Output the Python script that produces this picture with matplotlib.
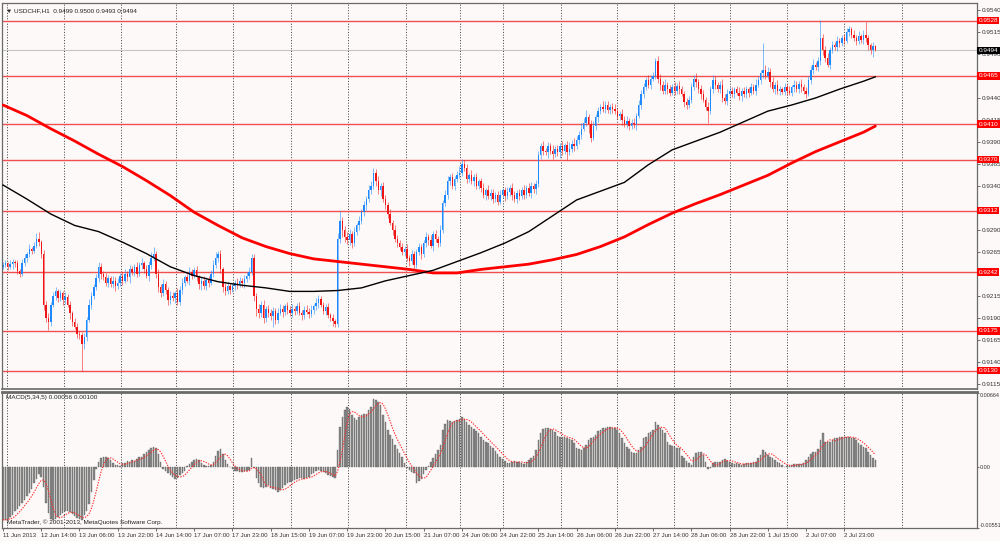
import numpy as np
import matplotlib
matplotlib.use("Agg")
import matplotlib.pyplot as plt

# ---------------- data (prices in pips above 0.9000) ----------------
closes_pips = [
    250, 252, 248, 251, 254, 252, 243, 240, 252, 258, 262, 268, 266, 272, 280, 276,
    262, 205, 190, 185, 205, 215, 220, 212, 218, 210, 214, 205, 195, 185, 180, 172,
    170, 160, 168, 188, 205, 215, 225, 235, 248, 240, 236, 230, 235, 228, 232, 226,
    230, 238, 232, 240, 236, 245, 242, 248, 240, 250, 252, 246, 238, 250, 258, 262,
    240, 225, 218, 228, 222, 210, 215, 212, 218, 208, 222, 230, 236, 232, 242, 238,
    244, 236, 228, 232, 226, 233, 230, 240, 250, 258, 262, 245, 225, 220, 226, 222,
    226, 230, 228, 232, 229, 234, 238, 242, 258, 215, 200, 195, 205, 190, 200, 195,
    192, 198, 188, 196, 200, 197, 203, 199, 195, 200, 198, 203, 196, 193, 199, 197,
    194, 199, 203, 207, 211, 205, 198, 202, 193, 190, 186, 183, 280, 300, 290, 282,
    278, 285, 275, 288, 295, 300, 310, 318, 325, 335, 340, 355, 345, 335, 340, 325,
    318, 308, 298, 290, 280, 275, 270, 265, 268, 258, 255, 262, 250, 265, 270, 262,
    275, 282, 278, 272, 285, 280, 275, 290, 320, 330, 345, 350, 340, 348, 352, 355,
    365, 360, 348, 352, 345, 350, 340, 345, 338, 330, 335, 328, 332, 325, 330, 322,
    330, 335, 328, 333, 338, 330, 325, 332, 328, 335, 330, 338, 332, 340, 336, 342,
    375, 385, 380, 378, 385, 380, 376, 382, 378, 385, 380, 386, 378, 382, 388, 385,
    392, 398, 405, 412, 418, 410, 395, 408, 418, 425, 430, 428, 432, 426, 430, 428,
    425, 420, 422, 415, 410, 414, 408, 412, 410, 420, 432, 445, 452, 460, 455, 462,
    465, 482, 462, 455, 448, 455, 450, 446, 452, 448, 454, 450, 445, 435, 432, 438,
    452, 462, 458, 450, 445, 438, 430, 425, 450, 460, 455, 450, 455, 440, 436, 445,
    448, 445, 450, 446, 442, 448, 444, 450, 446, 452, 448, 455, 460, 468, 472, 465,
    470, 458, 450, 455, 448, 450, 447, 452, 448, 446, 452, 455, 450, 456, 452, 448,
    445, 460, 472, 478, 475, 482, 508, 495, 485, 478, 495, 500, 498, 505, 502, 508,
    505, 515, 518, 512, 508, 505, 510, 506, 512, 508, 500, 495, 499, 494,
]
first_open_pips = 248

upper_wick_pips = [
    3, 4, 2, 5, 3, 2, 4, 3, 5, 4, 3, 6, 2, 4, 6, 8,
    3, 5, 4, 6, 3, 4, 5, 3, 4, 2, 5, 3, 4, 3, 5, 4,
    3, 4, 5, 3, 6, 4, 3, 5, 6, 4, 3, 5, 4, 3, 6, 4,
    5, 3, 4, 6, 3, 5, 4, 3, 5, 4, 6, 3, 4, 5, 7, 8,
    4, 5, 3, 6, 4, 3, 5, 4, 3, 6, 4, 5, 3, 4, 6, 3,
    4, 5, 3, 4, 6, 3, 5, 4, 6, 7, 4, 5, 3, 4, 5, 3,
    4, 3, 5, 4, 3, 5, 4, 6, 5, 4, 3, 6, 4, 5, 3, 4,
    5, 4, 3, 5, 6, 4, 3, 5, 4, 6, 3, 4, 5, 3, 4, 5,
    4, 5, 3, 6, 5, 4, 3, 4, 5, 3, 4, 3, 6, 12, 5, 4,
    5, 6, 4, 5, 3, 6, 4, 5, 4, 6, 5, 5, 4, 6, 3, 4,
    5, 4, 6, 3, 5, 4, 3, 5, 4, 6, 3, 5, 4, 3, 5, 4,
    4, 5, 3, 6, 4, 5, 3, 5, 4, 5, 6, 4, 5, 3, 5, 8,
    6, 4, 5, 3, 6, 4, 5, 3, 4, 5, 3, 6, 4, 5, 3, 4,
    5, 3, 4, 6, 3, 5, 4, 3, 5, 4, 6, 3, 5, 4, 3, 5,
    5, 4, 6, 3, 5, 4, 6, 3, 5, 4, 6, 3, 5, 8, 4, 6,
    5, 4, 6, 5, 8, 4, 5, 6, 4, 5, 3, 6, 4, 5, 3, 4,
    5, 4, 3, 6, 4, 5, 3, 4, 5, 3, 6, 4, 5, 4, 6, 4,
    5, 4, 6, 5, 4, 6, 3, 5, 4, 6, 3, 5, 4, 3, 5, 4,
    5, 4, 6, 3, 5, 4, 3, 5, 4, 6, 5, 3, 4, 6, 4, 5,
    4, 5, 3, 4, 6, 3, 5, 4, 3, 5, 4, 6, 5, 4, 30, 5,
    5, 4, 6, 3, 5, 4, 3, 5, 4, 6, 3, 5, 4, 3, 5, 4,
    4, 5, 4, 6, 3, 5, 21, 5, 4, 6, 3, 5, 4, 6, 3, 4,
    5, 4, 4, 3, 5, 4, 6, 3, 5, 14, 4, 3, 5, 1,
]
lower_wick_pips = [
    3, 2, 4, 3, 5, 4, 3, 4, 2, 3, 5, 3, 4, 2, 3, 4,
    4, 6, 5, 9, 4, 3, 5, 4, 3, 5, 4, 3, 6, 4, 3, 5,
    4, 31, 5, 4, 3, 5, 4, 3, 4, 6, 3, 4, 5, 3, 4, 5,
    3, 4, 5, 3, 4, 6, 3, 5, 4, 3, 4, 5, 3, 6, 4, 3,
    5, 6, 4, 3, 5, 6, 4, 3, 5, 4, 3, 5, 4, 3, 5, 4,
    3, 4, 5, 6, 3, 4, 5, 3, 4, 3, 5, 4, 6, 4, 3, 5,
    3, 4, 5, 3, 4, 5, 3, 4, 3, 6, 8, 5, 4, 6, 5, 4,
    4, 12, 5, 4, 3, 6, 4, 5, 3, 4, 5, 4, 3, 6, 4, 3,
    4, 3, 5, 4, 6, 3, 4, 5, 3, 4, 5, 4, 3, 5, 8, 6,
    4, 5, 6, 3, 4, 5, 3, 4, 5, 3, 4, 3, 5, 4, 6, 3,
    4, 5, 3, 6, 4, 5, 3, 4, 5, 3, 6, 4, 5, 3, 4, 5,
    3, 4, 5, 3, 6, 4, 5, 3, 4, 3, 5, 4, 3, 5, 4, 3,
    4, 3, 5, 4, 3, 5, 4, 3, 5, 4, 6, 3, 4, 5, 3, 4,
    3, 4, 5, 3, 4, 6, 3, 5, 4, 3, 5, 4, 3, 6, 4, 5,
    3, 4, 5, 3, 6, 4, 5, 3, 4, 6, 5, 4, 8, 3, 4, 5,
    3, 4, 5, 3, 4, 10, 5, 3, 4, 5, 3, 4, 5, 3, 4, 5,
    3, 4, 5, 6, 3, 4, 5, 3, 4, 6, 3, 4, 5, 3, 4, 5,
    3, 4, 5, 6, 3, 4, 5, 4, 3, 5, 4, 6, 3, 5, 4, 3,
    4, 3, 5, 4, 6, 3, 4, 13, 3, 4, 5, 3, 4, 5, 3, 4,
    3, 4, 5, 3, 4, 6, 3, 4, 5, 3, 4, 5, 3, 4, 5, 3,
    4, 5, 3, 6, 4, 5, 3, 4, 5, 3, 4, 5, 3, 4, 5, 4,
    5, 3, 4, 5, 3, 4, 5, 6, 4, 3, 5, 4, 3, 5, 4, 3,
    4, 3, 5, 4, 3, 5, 4, 3, 5, 4, 6, 5, 8, 1,
]

ma_black_bar = [0, 10, 20, 30, 40, 50, 60, 70, 80, 90, 100, 110, 120, 130, 140, 150, 160, 170, 180,
                190, 200, 210, 220, 230, 240, 250, 260, 270, 280, 290, 300, 310, 320, 330, 340,
                350, 360, 365]
ma_black_pips = [341, 325, 308, 295, 288, 276, 263, 248, 238, 231, 227, 224, 220, 220, 221, 224, 232,
                 238, 244, 254, 264, 275, 288, 306, 324, 334, 344, 364, 381, 391, 401, 413, 425,
                 432, 440, 450, 459, 464]
ma_red_bar = [0, 10, 20, 30, 40, 50, 60, 70, 80, 90, 100, 110, 120, 130, 140, 150, 160, 170, 180,
              190, 200, 210, 220, 230, 240, 250, 260, 270, 280, 290, 300, 310, 320, 330, 340,
              350, 360, 365]
ma_red_pips = [432, 420, 405, 391, 376, 362, 346, 329, 310, 295, 281, 271, 263, 257, 254, 251, 248,
               245, 241, 241, 245, 248, 251, 256, 262, 271, 282, 296, 309, 320, 330, 341, 352,
               366, 379, 390, 401, 408]

# MACD main line (units of 0.00001)
macd_e5 = [
    -480, -485, -470, -455, -440, -400, -380, -360, -330, -300, -270, -235, -200, -150, -110, -70,
    -90, -180, -330, -420, -470, -480, -470, -455, -440, -420, -400, -400, -410, -430, -450, -465,
    -475, -480, -440, -400, -340, -230, -120, -20, 45, 80, 90, 85, 80, 60, 30, 15,
    15, 10, 35, 30, 50, 45, 60, 55, 70, 90, 85, 110, 135, 150, 170, 175,
    165, 110, 40, -20, -40, -60, -75, -95, -115, -100, -80, -60, -35, 5, 20, 45,
    60, 70, 60, 30, 15, 10, 5, 15, 40, 100, 140, 155, 110, 60, 20, 0,
    -20, -35, -40, -45, -45, -40, -35, -30, 75, -10, -105, -150, -180, -195, -180, -170,
    -190, -200, -215, -225, -215, -195, -170, -150, -140, -130, -120, -110, -100, -105, -110, -100,
    -90, -70, -55, -40, -30, -40, -50, -60, -75, -85, -95, -105, 150, 360, 450, 510,
    540, 525, 465, 440, 425, 450, 470, 475, 480, 510, 540, 615, 600, 585, 560, 470,
    400, 330, 290, 250, 200, 160, 120, 90, 30, -15, -30, -45, -60, -150, -130, -110,
    -70, -30, 10, 40, 80, 110, 150, 200, 330, 390, 420, 415, 405, 410, 420, 430,
    450, 430, 400, 380, 360, 340, 320, 300, 270, 240, 225, 210, 185, 165, 140, 110,
    90, 70, 50, 30, 30, 45, 50, 45, 40, 30, 20, 45, 60, 75, 100, 150,
    240, 300, 340, 350, 345, 340, 330, 310, 280, 270, 270, 265, 260, 250, 240, 210,
    170, 155, 150, 165, 200, 240, 260, 270, 290, 320, 335, 345, 350, 355, 360, 350,
    345, 330, 300, 255, 210, 180, 156, 135, 126, 120, 150, 180, 255, 270, 300, 315,
    330, 400, 375, 350, 330, 300, 220, 200, 185, 175, 170, 165, 100, 75, 50, 30,
    15, 90, 120, 135, 135, 105, 45, -25, -15, 30, 40, 45, 45, 60, 66, 54,
    45, 30, 25, 30, 20, 15, 25, 30, 35, 30, 40, 45, 75, 105, 150, 135,
    105, 90, 75, 60, 45, 30, 15, 0, 6, 10, 15, 20, 24, 24, 20, 30,
    60, 90, 110, 135, 130, 160, 240, 300, 225, 220, 225, 240, 255, 260, 265, 270,
    270, 270, 265, 260, 255, 240, 210, 195, 180, 165, 130, 105, 75, 56,
]

time_labels = ["11 Jun 2013", "12 Jun 14:00", "13 Jun 06:00", "13 Jun 22:00", "14 Jun 14:00",
               "17 Jun 07:00", "17 Jun 23:00", "18 Jun 15:00", "19 Jun 07:00", "19 Jun 23:00",
               "20 Jun 15:00", "21 Jun 07:00", "24 Jun 06:00", "24 Jun 22:00", "25 Jun 14:00",
               "26 Jun 06:00", "26 Jun 22:00", "27 Jun 14:00", "28 Jun 06:00", "28 Jun 22:00",
               "1 Jul 15:00", "2 Jul 07:00", "2 Jul 23:00"]
bars_per_label = 16

level_prices = [0.9528, 0.9465, 0.9410, 0.9370, 0.9312, 0.9242, 0.9175, 0.9130]
current_price = 0.9494
price_ticks = [0.9540, 0.9515, 0.9490, 0.9465, 0.9440, 0.9415, 0.9390, 0.9365, 0.9340, 0.9315,
               0.9290, 0.9265, 0.9240, 0.9215, 0.9190, 0.9165, 0.9140, 0.9115]
macd_ticks = [0.00664, 0.0, -0.00551]
macd_tick_labels = ["0.00664", "0.00", "-0.00551"]

title_text = "USDCHF,H1  0.9499 0.9500 0.9493 0.9494"
macd_text = "MACD(5,34,5) 0.00056 0.00100"
copyright_text = "MetaTrader, \u00a9 2001-2013, MetaQuotes Software Corp."

# ---------------- layout constants ----------------
W, H = 1000, 541
X0_PX, PX_PER_BAR = 3.0, 2.39
LEFT_PX, RIGHT_PX = 2.0, 977.0
grid_px = [7, 64, 121, 176, 233, 291, 348, 406, 460, 503, 561, 617, 674, 730, 787, 844, 902]

bg = "#FCF9F8"
BULL = "#1E88FF"
BEAR = "#F01414"
FONT = ["Liberation Sans", "DejaVu Sans"]
plt.rcParams["font.family"] = FONT


def px2bar(px):
    return (px - X0_PX) / PX_PER_BAR


# ---------------- derived OHLC ----------------
close = 0.9 + np.array(closes_pips) / 10000.0
opens = np.concatenate([[0.9 + first_open_pips / 10000.0], close[:-1]])
high = np.maximum(opens, close) + np.array(upper_wick_pips) / 10000.0
low = np.minimum(opens, close) - np.array(lower_wick_pips) / 10000.0
n = len(close)
idx = np.arange(n)
bull = close >= opens
colors = np.where(bull, BULL, BEAR)

macd = np.array(macd_e5) / 1e5
signal = np.array([macd[max(0, i - 4):i + 1].mean() for i in range(n)])

# ---------------- figure ----------------
fig = plt.figure(figsize=(W / 100, H / 100), dpi=100, facecolor=bg)
ax = fig.add_axes([LEFT_PX / W, 1 - 389 / H, (RIGHT_PX - LEFT_PX) / W, 386 / H], facecolor=bg)
ax2 = fig.add_axes([LEFT_PX / W, 1 - 528 / H, (RIGHT_PX - LEFT_PX) / W, 136 / H], facecolor=bg)

xlim = (px2bar(LEFT_PX), px2bar(RIGHT_PX))
for a in (ax, ax2):
    a.set_xlim(*xlim)
    for s in a.spines.values():
        s.set_color("#6A6A6A")
        s.set_linewidth(0.9)
    for gx in grid_px:
        a.axvline(px2bar(gx), color="#3A3A3A", lw=0.7, ls=(0, (1.0, 1.8)), zorder=0.5)

ax.set_ylim(0.9109, 0.9548)
ax2.set_ylim(-0.00555, 0.00675)
ax2.spines["top"].set_linewidth(2.0)
ax.spines["bottom"].set_linewidth(1.2)

# horizontal levels
for lv in level_prices:
    ax.axhline(lv, color="#F05050", lw=1.0, zorder=1)
ax.axhline(current_price, color="#C4C4C4", lw=0.8, zorder=1)

# moving averages
ax.plot(np.array(ma_red_bar), 0.9 + np.array(ma_red_pips) / 1e4, color="#FF0000", lw=2.0, zorder=3,
        solid_capstyle="round", solid_joinstyle="round")
ax.plot(np.array(ma_black_bar), 0.9 + np.array(ma_black_pips) / 1e4, color="#000000", lw=1.0, zorder=3,
        solid_joinstyle="round")

# candles
ax.vlines(idx, low, high, colors=colors, lw=0.7, alpha=0.55, zorder=2)
body_h = np.maximum(np.abs(close - opens), 0.00002)
ax.bar(idx, body_h, bottom=np.minimum(opens, close), width=0.6, color=colors, lw=0, zorder=2.2)

# price axis (labels hidden where a level box covers them, as in the terminal)
ax.yaxis.tick_right()
ax.set_yticks(price_ticks)
shown = []
for p in price_ticks:
    covered = any(abs(p - lv) <= 0.0003 for lv in level_prices)
    shown.append("" if covered else f"{p:.4f}")
ax.set_yticklabels(shown)
ax.tick_params(axis="y", length=2, width=0.6, color="#555555", labelsize=4.6, pad=1.5,
               labelcolor="#333333")
ax.set_xticks([])

one_px = 1.0 / (RIGHT_PX - LEFT_PX)
for lv in level_prices:
    ax.text(1 + 1.5 * one_px, lv, f"{lv:.4f}", transform=ax.get_yaxis_transform(), ha="left",
            va="center", fontsize=4.6, color="white", zorder=6, clip_on=False,
            bbox=dict(boxstyle="square,pad=0.22", fc="#FF0000", ec="none"))
ax.text(1 + 1.5 * one_px, current_price, f"{current_price:.4f}", transform=ax.get_yaxis_transform(),
        ha="left", va="center", fontsize=4.6, color="white", zorder=6, clip_on=False,
        bbox=dict(boxstyle="square,pad=0.22", fc="#000000", ec="none"))

ax.text(4 * one_px, 1 - 5 / 386, "\u25bc " + title_text, transform=ax.transAxes,
        ha="left", va="top", fontsize=4.6, color="#222222", family=FONT)

# MACD pane
ax2.bar(idx, macd, width=0.62, color="#8A8A8A", edgecolor="#5A5A5A", lw=0.25, zorder=2)
ax2.plot(idx, signal, color="#FF2A2A", lw=0.8, ls=(0, (1.2, 1.2)), zorder=3)
ax2.yaxis.tick_right()
ax2.set_yticks(macd_ticks)
ax2.set_yticklabels(macd_tick_labels)
ax2.tick_params(axis="y", length=1.5, width=0.6, color="#555555", labelsize=3.9, pad=0.5,
                labelcolor="#333333")
for lab in ax2.get_yticklabels():
    if lab.get_text() == "0.00664":
        lab.set_va("top")
    elif lab.get_text() == "-0.00551":
        lab.set_va("bottom")
label_bars = [bars_per_label * k for k in range(len(time_labels))]
ax2.set_xticks(label_bars)
ax2.set_xticklabels(time_labels, ha="left")
ax2.tick_params(axis="x", length=2, width=0.6, color="#555555", labelsize=4.4, pad=1.5,
                labelcolor="#333333")

ax2.text(4 * one_px, 1 - 3 / 136, macd_text, transform=ax2.transAxes,
         ha="left", va="top", fontsize=4.6, color="#222222")
ax2.text(5 * one_px, 3 / 136, copyright_text, transform=ax2.transAxes,
         ha="left", va="bottom", fontsize=4.6, color="#222222")

fig.savefig("out.png", dpi=100, facecolor=bg)
